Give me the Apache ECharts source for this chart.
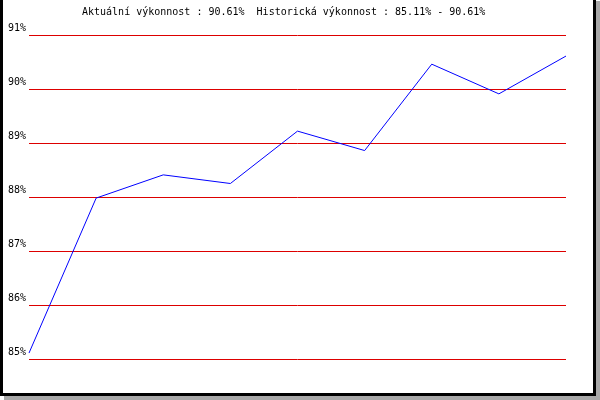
<!DOCTYPE html>
<html>
<head>
<meta charset="utf-8">
<script src="https://cdn.jsdelivr.net/npm/echarts@6/dist/echarts.min.js"></script>
<style>
  html, body { margin: 0; padding: 0; background: #fff; overflow: hidden; }
  #frame {
    position: absolute; left: 0; top: -3px;
    width: 590px; height: 393px;
    border: 3px solid #000;
    box-shadow: 4px 4px 0 #a8a8a8;
    background: #fff;
  }
  #chart { position: absolute; left: 0; top: 0; width: 600px; height: 400px; }
</style>
</head>
<body>
<div id="frame"></div>
<div id="chart"></div>
<script>
// data
const titleText = 'Aktuální výkonnost : 90.61%  Historická výkonnost : 85.11% - 90.61%';
const categories = ['1', '2', '3', '4', '5', '6', '7', '8', '9'];
const performance = [85.11, 87.98, 88.41, 88.25, 89.22, 88.86, 90.46, 89.91, 90.61];
const yMin = 85;
const yMax = 91;

const myChart = echarts.init(document.getElementById('chart'));
const font = '"DejaVu Sans Mono", monospace';

const option = {
  animation: false,
  backgroundColor: 'transparent',
  title: {
    text: titleText,
    left: 82,
    top: 7,
    padding: 0,
    textStyle: { fontFamily: font, fontSize: 10, fontWeight: 'normal', color: '#000' }
  },
  grid: { left: 29, right: 34, top: 35, bottom: 41 },
  xAxis: {
    type: 'category',
    data: categories,
    boundaryGap: false,
    axisLine: { show: false },
    axisTick: { show: false },
    axisLabel: { show: false },
    splitLine: { show: false }
  },
  yAxis: {
    type: 'value',
    min: yMin,
    max: yMax,
    interval: 1,
    axisLine: { show: false },
    axisTick: { show: false },
    axisLabel: {
      formatter: '{value}%',
      fontFamily: font,
      fontSize: 10,
      color: '#000',
      margin: 3,
      verticalAlign: 'bottom',
      padding: [0, 0, 2, 0]
    },
    splitLine: { lineStyle: { color: '#dd0000', width: 1 } }
  },
  series: [
    {
      type: 'line',
      data: performance,
      symbol: 'none',
      lineStyle: { color: '#0000ff', width: 1 }
    }
  ]
};

myChart.setOption(option);
</script>
</body>
</html>
